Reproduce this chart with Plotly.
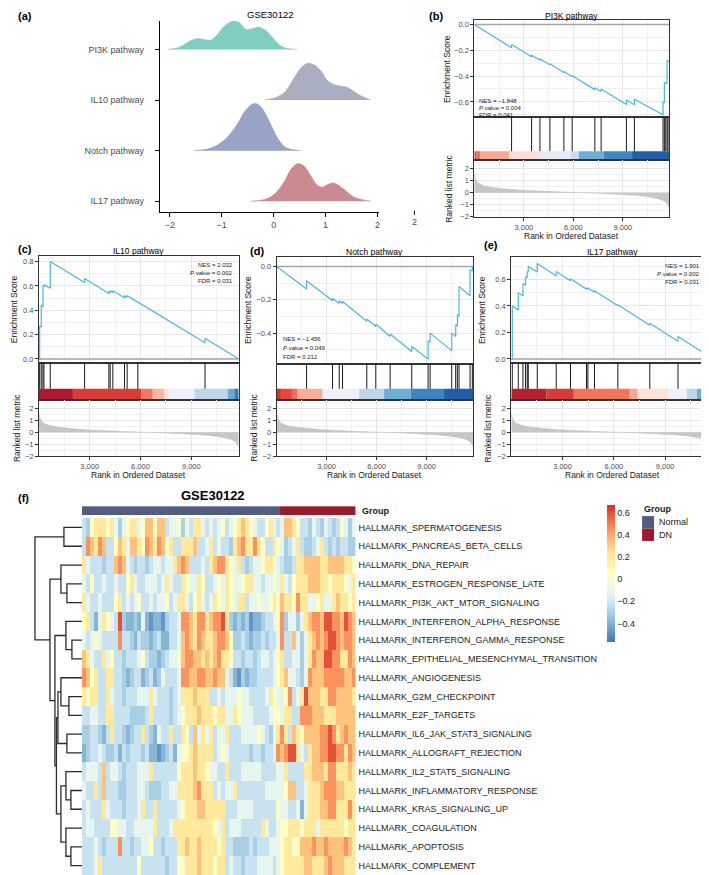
import plotly.graph_objects as go

W, H = 709, 875
FONT = "Liberation Sans, Arial, sans-serif"

# ---------------- (a) ridgeline densities ----------------
ridge_labels = ["PI3K pathway", "IL10 pathway", "Notch pathway", "IL17 pathway"]
ridge_levels = [4, 3, 2, 1]
ridge_colors = ["#7ECFBF", "#A9AEC2", "#98A3C6", "#CB8A8F"]
pi3k_x = [-2.04, -1.85, -1.72, -1.59, -1.46, -1.33, -1.21, -1.08, -0.95, -0.79, -0.66, -0.53, -0.40, -0.28, -0.15, 0.01, 0.14, 0.27, 0.46]
pi3k_d = [0.0, 0.033, 0.099, 0.178, 0.217, 0.197, 0.184, 0.296, 0.46, 0.56, 0.526, 0.395, 0.414, 0.441, 0.375, 0.197, 0.066, 0.02, 0.0]
il10_x = [-0.18, 0.01, 0.21, 0.40, 0.53, 0.65, 0.78, 0.91, 1.04, 1.17, 1.29, 1.42, 1.55, 1.68, 1.87]
il10_d = [0.0, 0.039, 0.151, 0.447, 0.645, 0.724, 0.697, 0.579, 0.382, 0.303, 0.276, 0.25, 0.171, 0.086, 0.0]
notch_x = [-1.53, -1.27, -1.08, -0.88, -0.69, -0.56, -0.44, -0.37, -0.28, -0.18, -0.05, 0.08, 0.21, 0.33, 0.53]
notch_d = [0.0, 0.033, 0.112, 0.276, 0.539, 0.77, 0.901, 0.934, 0.901, 0.77, 0.507, 0.243, 0.079, 0.026, 0.0]
il17_x = [-0.44, -0.18, 0.01, 0.21, 0.33, 0.46, 0.59, 0.72, 0.85, 0.94, 1.04, 1.13, 1.23, 1.36, 1.55, 1.87]
il17_d = [0.0, 0.033, 0.132, 0.395, 0.625, 0.743, 0.691, 0.493, 0.309, 0.276, 0.329, 0.362, 0.329, 0.23, 0.079, 0.0]
ridge_x = [pi3k_x, il10_x, notch_x, il17_x]
ridge_d = [pi3k_d, il10_d, notch_d, il17_d]
ridge_xticks = [-2, -1, 0, 1, 2]

# ---------------- GSEA data ----------------
N_RANK = 11800
rank_ticks = [3000, 6000, 9000]
rank_ticktext = ["3,000", "6,000", "9,000"]
metric_rank = [1, 100, 250, 500, 900, 1500, 2200, 3000, 4000, 5000, 6000, 7000, 8000, 9000, 9800, 10500, 11000, 11400, 11650, 11800]
metric_val = [1.55, 1.05, 0.8, 0.62, 0.48, 0.37, 0.28, 0.2, 0.13, 0.07, 0.02, -0.03, -0.09, -0.16, -0.24, -0.34, -0.46, -0.62, -0.85, -1.25]

pi3k_hits = [2257, 3468, 3975, 4580, 5427, 5929, 7302, 7683, 9216, 9700, 11435, 11515, 11600, 11680, 11740]
pi3k_es_rank = [0, 2257, 2257, 3468, 3468, 3975, 3975, 4580, 4580, 5427, 5427, 5929, 5929, 7302, 7302, 7683, 7683, 9216, 9216, 9700, 9700, 11435, 11435, 11515, 11515, 11600, 11600, 11680, 11680, 11740, 11740, 11800]
pi3k_es = [0, -0.18, -0.155, -0.25, -0.238, -0.275, -0.266, -0.312, -0.304, -0.372, -0.365, -0.405, -0.397, -0.505, -0.49, -0.52, -0.5, -0.62, -0.585, -0.622, -0.58, -0.70, -0.60, -0.607, -0.45, -0.457, -0.45, -0.456, -0.28, -0.285, -0.28, -0.285]
pi3k_bins = [0, 140, 343, 2100, 4013, 5828, 6334, 7845, 9559, 11800]
pi3k_bin_cols = ["#E8402F", "#F46D5A", "#F9A88F", "#FDE0D3", "#E6EBF7", "#C9DDEF", "#6DAED6", "#3E88C5", "#1E5FA9"]
pi3k_stats = ["NES = \u22121.848", "<i>P</i>.value = 0.004", "FDR = 0.041"]

il10_hits = [41, 136, 236, 295, 667, 2696, 4130, 4207, 4366, 5056, 5210, 5841, 9812]
il10_es_rank = [0, 41, 41, 136, 136, 236, 236, 295, 295, 667, 667, 2696, 2696, 4130, 4130, 4207, 4207, 4366, 4366, 5056, 5056, 5210, 5210, 5841, 5841, 9812, 9812, 11800]
il10_es = [0, -0.003, 0.27, 0.262, 0.44, 0.432, 0.60, 0.595, 0.61, 0.58, 0.80, 0.628, 0.66, 0.538, 0.553, 0.546, 0.56, 0.546, 0.56, 0.501, 0.52, 0.507, 0.52, 0.466, 0.47, 0.133, 0.17, 0.0]
il10_bins = [0, 2006, 6037, 6726, 7414, 7709, 9184, 11151, 11545, 11800]
il10_bin_cols = ["#B2182B", "#DC3B33", "#F4795C", "#FBB59C", "#FDE2D5", "#EEF0FA", "#BDD7E8", "#6AAED6", "#2F7DBB"]
il10_stats = ["NES = 2.032", "<i>P</i>.value = 0.002", "FDR = 0.031"]

notch_hits = [1797, 3354, 3755, 3954, 5410, 5949, 6810, 8106, 9087, 9207, 10503, 10742, 10843, 10943, 11602, 11740]
notch_es_rank = [0, 1797, 1797, 3354, 3354, 3755, 3755, 3954, 3954, 5410, 5410, 5949, 5949, 6810, 6810, 8106, 8106, 9087, 9087, 9207, 9207, 10503, 10503, 10742, 10742, 10843, 10843, 10943, 10943, 11602, 11602, 11740, 11740, 11800]
notch_es = [0, -0.135, -0.085, -0.205, -0.19, -0.222, -0.205, -0.222, -0.21, -0.328, -0.315, -0.36, -0.345, -0.42, -0.405, -0.51, -0.48, -0.555, -0.445, -0.455, -0.40, -0.505, -0.40, -0.42, -0.35, -0.358, -0.29, -0.298, -0.12, -0.175, -0.02, -0.025, 0.0, -0.005]
notch_bins = [0, 259, 918, 1258, 2755, 4952, 6449, 8046, 10043, 11800]
notch_bin_cols = ["#D7301F", "#E8473A", "#F26B57", "#FCAD93", "#EEF0FA", "#BFD6E8", "#6BAED6", "#3C85C4", "#1F5FA8"]
notch_stats = ["NES = \u22121.456", "<i>P</i>.value = 0.049", "FDR = 0.212"]

il17_hits = [58, 409, 682, 835, 934, 993, 1519, 2628, 3464, 4399, 4481, 4867, 6233, 8102, 9754]
il17_es_rank = [0, 58, 58, 409, 409, 682, 682, 835, 835, 934, 934, 993, 993, 1519, 1519, 2628, 2628, 3464, 3464, 4399, 4399, 4481, 4481, 4867, 4867, 6233, 6233, 8102, 8102, 9754, 9754, 11800]
il17_es = [0, -0.005, 0.40, 0.37, 0.50, 0.477, 0.57, 0.557, 0.62, 0.612, 0.66, 0.655, 0.70, 0.656, 0.72, 0.628, 0.66, 0.59, 0.605, 0.527, 0.535, 0.528, 0.535, 0.503, 0.515, 0.402, 0.41, 0.255, 0.27, 0.133, 0.17, 0.0]
il17_bins = [0, 2063, 3660, 6930, 7397, 9207, 10278, 10862, 11348, 11800]
il17_bin_cols = ["#B7202D", "#D93A35", "#F47458", "#F9A88C", "#FDE3D6", "#EEF0FA", "#BDD7E8", "#6BAED6", "#3A84C2"]
il17_stats = ["NES = 1.901", "<i>P</i>.value = 0.002", "FDR = 0.031"]

# ---------------- (f) heatmap (levels) ----------------
hm_title = "GSE30122"
hm_rows = ["HALLMARK_SPERMATOGENESIS", "HALLMARK_PANCREAS_BETA_CELLS", "HALLMARK_DNA_REPAIR",
           "HALLMARK_ESTROGEN_RESPONSE_LATE", "HALLMARK_PI3K_AKT_MTOR_SIGNALING",
           "HALLMARK_INTERFERON_ALPHA_RESPONSE", "HALLMARK_INTERFERON_GAMMA_RESPONSE",
           "HALLMARK_EPITHELIAL_MESENCHYMAL_TRANSITION", "HALLMARK_ANGIOGENESIS",
           "HALLMARK_G2M_CHECKPOINT", "HALLMARK_E2F_TARGETS", "HALLMARK_IL6_JAK_STAT3_SIGNALING",
           "HALLMARK_ALLOGRAFT_REJECTION", "HALLMARK_IL2_STAT5_SIGNALING",
           "HALLMARK_INFLAMMATORY_RESPONSE", "HALLMARK_KRAS_SIGNALING_UP", "HALLMARK_COAGULATION",
           "HALLMARK_APOPTOSIS", "HALLMARK_COMPLEMENT"]
sample_groups = ["Normal"] * 50 + ["DN"] * 19
level_values = [-0.48, -0.39, -0.3, -0.22, -0.12, 0.03, 0.2, 0.33, 0.45, 0.6]
hm_levels = [
    "32566656424566457757734452436643434" "534567654335643" "4776533243243235424",
    "38768733576477658768756336667334634" "332678668653365" "4234632234632323322",
    "64333233787432332344344678733343678" "865463234456654" "3223667777667777665",
    "43533433433564334443464336544653345" "465445664434454" "6435666777665666546",
    "64334333563434533434453466435643465" "465466344544565" "7665866445644676656",
    "56314654392112141011023348876886788" "962121201123345" "8244246788799887987",
    "43454333383321322123113347876876678" "875223212232334" "8337424678789987887",
    "76433645332333453221234457887767678" "665332332344345" "6334424687799886687",
    "87563366332123312312433348877887787" "743102122333345" "6744324877788888778",
    "65663364332333444643332346667666334" "344454433334654" "4583469777668877776",
    "33443366333322223633332345666766656" "644654443333455" "4663388877766677777",
    "22332136332123363214336336537464634" "463334444543246" "8637657777889867877",
    "12334322313233323110123145567666634" "543333323323348" "7899643677889988687",
    "34443734432333444633333356667665443" "363334444433334" "4633336677768866676",
    "43363733322333443222334466667866634" "344633333334444" "4577334666788877666",
    "34333643332333463363333345666776666" "633344443333335" "4433414666778866686",
    "34433335544334444463334666666666654" "634443333364334" "5566656664666666566",
    "33343233383323344533233366766766665" "633222232333444" "5665577787787777876",
    "33346333333333533333323355666766656" "634332333444434" "5666667766678777666",
]
# dendrogram merges: (child_a, child_b, height); leaves 0..18, merged nodes numbered from 19
dend_merges = [(0, 1, 18), (3, 4, 15), (2, 20, 21), (6, 7, 10), (5, 22, 16), (9, 10, 13),
               (8, 24, 21), (11, 12, 15), (25, 26, 24), (14, 15, 11), (13, 28, 16), (17, 18, 11),
               (16, 30, 16), (29, 31, 21), (27, 32, 25.5), (23, 33, 27), (21, 34, 32), (19, 35, 47)]
group_names = ["Normal", "DN"]
group_colors = ["#515E82", "#9A1C2B"]
cb_ticks = [-0.4, -0.2, 0, 0.2, 0.4, 0.6]
cb_ticktext = ["\u22120.4", "\u22120.2", "0", "0.2", "0.4", "0.6"]
hm_zmin, hm_zmax = -0.57, 0.67
hm_palette = ["#4575B4", "#91BFDB", "#E0F3F8", "#FFFFBF", "#FEE090", "#FC8D59", "#D73027"]

# =============================================================================
fig = go.Figure()
L = dict(width=W, height=H, margin=dict(l=0, r=0, t=0, b=0), paper_bgcolor="white",
         plot_bgcolor="white", showlegend=False, font=dict(family=FONT, color="#000"))
ann, shapes = [], []
cnt = [0]


def axes(l, r, t, b, xr, yr, xkw=None, ykw=None):
    cnt[0] += 1
    n = cnt[0]
    s = "" if n == 1 else str(n)
    base = dict(showgrid=False, zeroline=False, showticklabels=False, ticks="", fixedrange=True)
    xa = dict(base, domain=[l / W, r / W], range=xr, anchor="y" + s)
    ya = dict(base, domain=[1 - b / H, 1 - t / H], range=yr, anchor="x" + s)
    if xkw:
        xa.update(xkw)
    if ykw:
        ya.update(ykw)
    L["xaxis" + s] = xa
    L["yaxis" + s] = ya
    return "x" + s, "y" + s


def text(t, x, y, size, xanchor="center", color="#000", bold=False, angle=0, yanchor="middle"):
    if bold:
        t = "<b>" + t + "</b>"
    ann.append(dict(text=t, x=x / W, y=1 - y / H, xref="paper", yref="paper", showarrow=False,
                    xanchor=xanchor, yanchor=yanchor, textangle=angle,
                    font=dict(size=size, color=color, family=FONT)))


# ---------------- (a) ridgeline ----------------
ax_line = dict(showline=True, linecolor="black", linewidth=1, ticks="outside", ticklen=4,
               tickcolor="black", tickwidth=1, showticklabels=True,
               tickfont=dict(size=9, color="#4D4D4D", family=FONT))
xr, yr = axes(152, 372, 13, 205, [-2.192, 2.038], [0.79, 4.564],
              xkw=dict(ax_line, tickvals=ridge_xticks, ticktext=[str(v).replace("-", "\u2212") for v in ridge_xticks]),
              ykw=dict(ax_line, tickvals=ridge_levels, ticktext=ridge_labels, ticklabelstandoff=9))
for xs, ds, lev, col in zip(ridge_x, ridge_d, ridge_levels, ridge_colors):
    fig.add_trace(go.Scatter(x=[xs[0], xs[-1]], y=[lev, lev], mode="lines", line=dict(width=0, color=col),
                             xaxis=xr, yaxis=yr, hoverinfo="skip"))
    fig.add_trace(go.Scatter(x=xs, y=[lev + d for d in ds], mode="lines",
                             line=dict(width=0.6, color=col, shape="spline", smoothing=0.9),
                             fill="tonexty", fillcolor=col, xaxis=xr, yaxis=yr, hoverinfo="skip"))
text("GSE30122", 262, 7, 9.5)
text("(a)", 8, 8, 11, xanchor="left", bold=True)
# stray tick & label at right of panel (a)
shapes.append(dict(type="line", xref="paper", yref="paper", x0=407 / W, x1=407 / W,
                   y0=1 - 208 / H, y1=1 - 204 / H, line=dict(color="black", width=1)))
text("2", 407, 215, 9, color="#4D4D4D")

# ---------------- GSEA panels ----------------
panels = [
    dict(title="PI3K pathway", letter="(b)", lx=420, ly=8, hits=pi3k_hits, er=pi3k_es_rank, ev=pi3k_es,
         bins=pi3k_bins, bcols=pi3k_bin_cols, stats=pi3k_stats,
         l=467, r=662, t=12, es_b=110, cb_t=144, hit_b=153, rk_b=210, es_range=[-0.72, 0.035],
         es_ticks=[-0.6, -0.4, -0.2, 0.0], es_minor=[-0.7, -0.5, -0.3, -0.1], title_y=8,
         es_tx=439, rk_tx=442, xt_y=229, nes_x=470, nes_y=[94, 101, 108], nes_anchor="left"),
    dict(title="IL10 pathway", letter="(c)", lx=8, ly=242, hits=il10_hits, er=il10_es_rank, ev=il10_es,
         bins=il10_bins, bcols=il10_bin_cols, stats=il10_stats,
         l=31, r=231, t=249, es_b=357, cb_t=383, hit_b=394, rk_b=451, es_range=[-0.033, 0.849],
         es_ticks=[0.0, 0.2, 0.4, 0.6, 0.8], es_minor=[0.1, 0.3, 0.5, 0.7], title_y=244,
         es_tx=6, rk_tx=9, xt_y=470, nes_x=227, nes_y=[258, 267, 275], nes_anchor="right"),
    dict(title="Notch pathway", letter="(d)", lx=240, ly=244, hits=notch_hits, er=notch_es_rank, ev=notch_es,
         bins=notch_bins, bcols=notch_bin_cols, stats=notch_stats,
         l=269, r=466, t=250, es_b=358, cb_t=383, hit_b=394, rk_b=451, es_range=[-0.585, 0.06],
         es_ticks=[-0.4, -0.2, 0.0], es_minor=[-0.5, -0.3, -0.1], title_y=245,
         es_tx=241, rk_tx=246, xt_y=470, nes_x=273, nes_y=[333, 342, 351], nes_anchor="left"),
    dict(title="IL17 pathway", letter="(e)", lx=475, ly=238, hits=il17_hits, er=il17_es_rank, ev=il17_es,
         bins=il17_bins, bcols=il17_bin_cols, stats=il17_stats,
         l=504, r=706, t=250, es_b=357, cb_t=383, hit_b=394, rk_b=451, es_range=[-0.03, 0.7725],
         es_ticks=[0.0, 0.2, 0.4, 0.6], es_minor=[0.1, 0.3, 0.5, 0.7], title_y=245,
         es_tx=474, rk_tx=481, xt_y=470, nes_x=695, nes_y=[259, 268, 276], nes_anchor="right"),
]

FRAME = dict(showline=True, mirror=True, linecolor="#333333", linewidth=1)
TICKF = dict(size=7.5, color="#4D4D4D", family=FONT)
GRID = dict(showgrid=True, gridcolor="#E6E6E6", gridwidth=0.8)
minor_x = [1500, 4500, 7500, 10500]

for p in panels:
    # Enrichment score panel
    xe, ye = axes(p["l"], p["r"], p["t"], p["es_b"], [0, N_RANK], p["es_range"],
                  xkw=dict(FRAME, **GRID, tickmode="array", tickvals=rank_ticks,
                           minor=dict(tickmode="array", tickvals=minor_x, showgrid=True,
                                      gridcolor="#F1F1F1", gridwidth=0.5)),
                  ykw=dict(FRAME, **GRID, tickmode="array", tickvals=p["es_ticks"], tickformat=".1f",
                           showticklabels=True, ticks="outside", ticklen=3, tickcolor="#333333",
                           tickfont=TICKF,
                           minor=dict(tickmode="array", tickvals=p["es_minor"], showgrid=True,
                                      gridcolor="#F1F1F1", gridwidth=0.5)))
    fig.add_trace(go.Scatter(x=[0, N_RANK], y=[0, 0], mode="lines", line=dict(color="#A6A6A6", width=1.6),
                             xaxis=xe, yaxis=ye, hoverinfo="skip"))
    fig.add_trace(go.Scatter(x=p["er"], y=p["ev"], mode="lines", line=dict(color="#4DB8DC", width=1.2),
                             xaxis=xe, yaxis=ye, hoverinfo="skip"))
    # hits panel
    xh, yh = axes(p["l"], p["r"], p["es_b"], p["hit_b"], [0, N_RANK], [0, 1],
                  xkw=dict(FRAME), ykw=dict(FRAME))
    cbf = (p["hit_b"] - p["cb_t"]) / (p["hit_b"] - p["es_b"])
    hx, hy = [], []
    for h in p["hits"]:
        hx += [h, h, None]
        hy += [cbf, 1, None]
    fig.add_trace(go.Scatter(x=hx, y=hy, mode="lines", line=dict(color="#1A1A1A", width=1),
                             xaxis=xh, yaxis=yh, hoverinfo="skip"))
    for i, c in enumerate(p["bcols"]):
        shapes.append(dict(type="rect", xref=xh, yref=yh, x0=p["bins"][i], x1=p["bins"][i + 1],
                           y0=0, y1=cbf, fillcolor=c, line=dict(width=0), layer="below"))
    # ranked list panel
    xk, yk = axes(p["l"], p["r"], p["hit_b"], p["rk_b"], [0, N_RANK], [-2, 2.7],
                  xkw=dict(FRAME, **GRID, tickmode="array", tickvals=rank_ticks, ticktext=rank_ticktext,
                           showticklabels=True, ticks="outside", ticklen=3, tickcolor="#333333",
                           tickfont=TICKF,
                           minor=dict(tickmode="array", tickvals=minor_x, showgrid=True,
                                      gridcolor="#F1F1F1", gridwidth=0.5)),
                  ykw=dict(FRAME, **GRID, tickmode="array", tickvals=[-2, -1, 0, 1, 2],
                           showticklabels=True, ticks="outside", ticklen=3, tickcolor="#333333",
                           tickfont=TICKF,
                           minor=dict(tickmode="array", tickvals=[-1.5, -0.5, 0.5, 1.5, 2.5], showgrid=True,
                                      gridcolor="#F1F1F1", gridwidth=0.5)))
    fig.add_trace(go.Scatter(x=metric_rank, y=metric_val, mode="lines",
                             line=dict(color="#BEBEBE", width=0.5, shape="spline", smoothing=0.6),
                             fill="tozeroy", fillcolor="#C6C6C6", xaxis=xk, yaxis=yk, hoverinfo="skip"))
    # texts
    text(p["title"], (p["l"] + p["r"]) / 2, p["title_y"], 8.5)
    text(p["letter"], p["lx"], p["ly"], 11, xanchor="left", bold=True)
    text("Enrichment Score", p["es_tx"], (p["t"] + p["es_b"]) / 2, 8.5, angle=-90, color="#1A1A1A")
    text("Ranked list metric", p["rk_tx"], (p["hit_b"] + p["rk_b"]) / 2, 8.5, angle=-90, color="#1A1A1A")
    text("Rank in Ordered Dataset", (p["l"] + p["r"]) / 2, p["xt_y"], 8.5, color="#1A1A1A")
    for s, yy in zip(p["stats"], p["nes_y"]):
        text(s, p["nes_x"], yy, 6, xanchor=p["nes_anchor"], color="#1A1A1A")

# ---------------- (f) heatmap ----------------
hm_l, hm_r, hm_t, hm_b = 74, 348, 513, 872
nrow, ncol = len(hm_rows), len(sample_groups)
z = [[level_values[int(ch)] for ch in (row + "5" * ncol)[:ncol]] for row in hm_levels]
cscale = [[i / (len(hm_palette) - 1), c] for i, c in enumerate(hm_palette)]

xm, ym = axes(hm_l, hm_r, hm_t, hm_b, [-0.5, ncol - 0.5], [nrow - 0.5, -0.5],
              ykw=dict(side="right", showticklabels=True, tickmode="array", tickvals=list(range(nrow)),
                       ticktext=hm_rows, tickfont=dict(size=9, color="#1A1A1A", family=FONT),
                       ticklabelstandoff=2))
fig.add_trace(go.Heatmap(z=z, x=list(range(ncol)), y=list(range(nrow)), colorscale=cscale,
                         zmin=hm_zmin, zmax=hm_zmax, xaxis=xm, yaxis=ym, hoverinfo="skip",
                         colorbar=dict(x=600 / W, xanchor="left", y=1 - 500 / H, yanchor="top",
                                       len=137, lenmode="pixels", thickness=8, thicknessmode="pixels",
                                       outlinewidth=0, xpad=0, ypad=0, tickmode="array",
                                       tickvals=cb_ticks, ticktext=cb_ticktext, ticks="",
                                       tickfont=dict(size=9, color="#1A1A1A", family=FONT))))

# group annotation bar
gcode = [group_names.index(g) for g in sample_groups]
xg, yg = axes(hm_l, hm_r, 501, 510, [-0.5, ncol - 0.5], [-0.5, 0.5])
fig.add_trace(go.Heatmap(z=[gcode], x=list(range(ncol)), y=[0], showscale=False, zmin=0, zmax=1,
                         colorscale=[[0, group_colors[0]], [0.5, group_colors[0]],
                                     [0.5, group_colors[1]], [1, group_colors[1]]],
                         xaxis=xg, yaxis=yg, hoverinfo="skip"))
text("Group", 352, 506, 9, xanchor="left", bold=True, color="#1A1A1A")

# dendrogram
xd, yd = axes(20, hm_l, hm_t, hm_b, [54, 0], [nrow - 0.5, -0.5])
pos = {i: (0.0, float(i)) for i in range(nrow)}
dx, dy = [], []
for k, (a, b, h) in enumerate(dend_merges):
    ha, ya_ = pos[a]
    hb, yb_ = pos[b]
    dx += [ha, h, h, hb, None]
    dy += [ya_, ya_, yb_, yb_, None]
    pos[nrow + k] = (h, (ya_ + yb_) / 2)
fig.add_trace(go.Scatter(x=dx, y=dy, mode="lines", line=dict(color="#2B2B2B", width=1.3),
                         xaxis=xd, yaxis=yd, hoverinfo="skip"))

text(hm_title, 205, 490, 13, bold=True)
text("(f)", 8, 493, 11, xanchor="left", bold=True)

# group legend
text("Group", 635, 504, 9, xanchor="left", bold=True, color="#1A1A1A")
for i, (g, c) in enumerate(zip(group_names, group_colors)):
    y0 = 511 + 12.5 * i
    shapes.append(dict(type="rect", xref="paper", yref="paper", x0=635 / W, x1=647 / W,
                       y0=1 - (y0 + 12.5) / H, y1=1 - y0 / H, fillcolor=c, line=dict(width=0)))
    text(g, 650, y0 + 6.25, 9, xanchor="left", color="#1A1A1A")

L["annotations"] = ann
L["shapes"] = shapes
fig.update_layout(**L)
fig.write_html("out.html")
